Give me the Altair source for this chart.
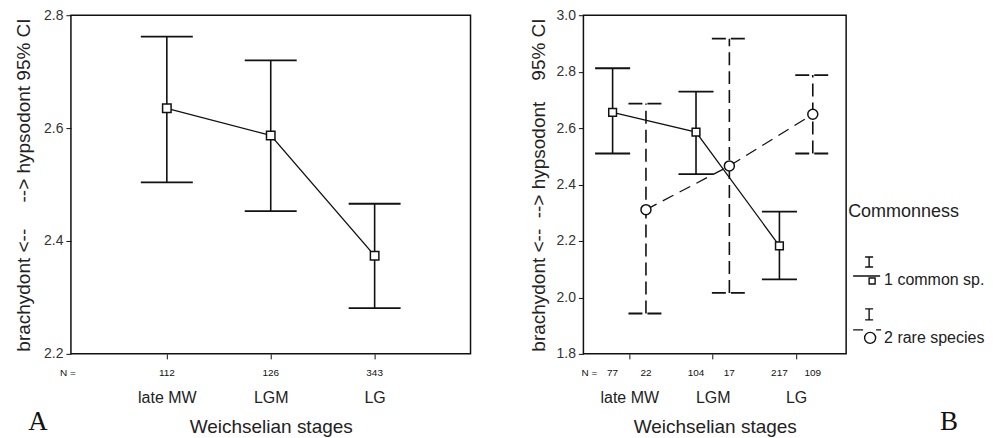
import json
import altair as alt
import pandas as pd

# ---------------- data ----------------
stages = ["late MW", "LGM", "LG"]

# Panel A: all species
a_mean = [2.635, 2.587, 2.374]
a_lo = [2.504, 2.453, 2.281]
a_hi = [2.762, 2.720, 2.466]
a_n = ["112", "126", "343"]

# Panel B: by commonness
groups = ["1 common sp.", "2 rare species"]
b_common_mean = [2.656, 2.586, 2.183]
b_common_lo = [2.510, 2.437, 2.064]
b_common_hi = [2.812, 2.729, 2.304]
b_common_n = ["77", "104", "217"]
b_rare_mean = [2.311, 2.466, 2.649]
b_rare_lo = [1.943, 2.016, 2.510]
b_rare_hi = [2.687, 2.917, 2.788]
b_rare_n = ["22", "17", "109"]

a_ticks = [2.2, 2.4, 2.6, 2.8]
b_ticks = [1.8, 2.0, 2.2, 2.4, 2.6, 2.8, 3.0]

# ---------------- tables ----------------
left_df = pd.DataFrame({"stage": stages, "mean": a_mean, "lo": a_lo, "hi": a_hi, "n": a_n})
right_df = pd.DataFrame({
    "stage": stages * 2,
    "group": [groups[0]] * 3 + [groups[1]] * 3,
    "mean": b_common_mean + b_rare_mean,
    "lo": b_common_lo + b_rare_lo,
    "hi": b_common_hi + b_rare_hi,
    "n": b_common_n + b_rare_n,
})

FONT = "Liberation Sans"
INK = "#111111"
H = 339
WA = 400
WB = 263

stage_list = json.dumps(stages)
label_expr = "['', 'late MW', 'LGM', 'LG'][datum.value]"
NB = "\u00a0"

def x_axis():
    return alt.Axis(values=[1, 2, 3], labelExpr=label_expr, grid=False, domain=False,
                    tickSize=5, tickColor=INK, labelPadding=31, titlePadding=12,
                    labelFontSize=16, labelColor="#222", titleFontSize=19,
                    titleFontWeight="normal", titleColor="#222", labelFont=FONT, titleFont=FONT)

def y_axis(vals, tpad):
    return alt.Axis(values=vals, format=".1f", grid=False, domain=False, tickSize=5,
                    tickColor=INK, labelPadding=3, titlePadding=tpad, labelFontSize=14,
                    labelColor="#333", titleFontSize=19, titleFontWeight="normal",
                    titleColor="#222", labelFont=FONT, titleFont=FONT)

# ---------------- Panel A ----------------
xa_scale = alt.Scale(domain=[0.077, 3.923], nice=False, zero=False)
ya_scale = alt.Scale(domain=[2.2, 2.8], nice=False, zero=False)
xa_axis = x_axis()
ya_axis = y_axis(a_ticks, 10)
ya_title = "brachydont <--" + NB * 4 + " --> hypsodont 95% CI"
x_title = "Weichselian stages"

baseA = alt.Chart(left_df).transform_calculate(
    pos=f"indexof({stage_list}, datum.stage) + 1"
).transform_calculate(l="datum.pos - 0.25", r="datum.pos + 0.25")

def XA(field):
    return alt.X(field, scale=xa_scale, axis=xa_axis, title=x_title)

def YA(field):
    return alt.Y(field, scale=ya_scale, axis=ya_axis, title=ya_title)

a_bars = baseA.mark_rule(color=INK, strokeWidth=1.6).encode(x=XA("pos:Q"), y=YA("lo:Q"), y2="hi:Q")
a_cap_lo = baseA.mark_rule(color=INK, strokeWidth=1.8).encode(x=XA("l:Q"), x2="r:Q", y=YA("lo:Q"))
a_cap_hi = baseA.mark_rule(color=INK, strokeWidth=1.8).encode(x=XA("l:Q"), x2="r:Q", y=YA("hi:Q"))
a_line = baseA.mark_line(color=INK, strokeWidth=1.3).encode(x=XA("pos:Q"), y=YA("mean:Q"))
a_pts = baseA.mark_point(shape="square", size=72, filled=True, fill="white", stroke=INK,
                         strokeWidth=1.5, opacity=1).encode(x=XA("pos:Q"), y=YA("mean:Q"))
a_n_txt = baseA.mark_text(font=FONT, fontSize=10, color=INK).encode(
    x=XA("pos:Q"), y=alt.value(H + 19), text="n:N")
a_n_lab = alt.Chart(pd.DataFrame({"t": ["N ="]})).mark_text(font=FONT, fontSize=10, color=INK).encode(
    x=alt.value(-3), y=alt.value(H + 19), text="t:N")
a_letter = alt.Chart(pd.DataFrame({"t": ["A"]})).mark_text(
    font="Liberation Serif", fontSize=27, color=INK).encode(
    x=alt.value(-33), y=alt.value(H + 68), text="t:N")

panelA = alt.layer(a_bars, a_cap_lo, a_cap_hi, a_line, a_pts, a_n_txt, a_n_lab, a_letter).properties(
    width=WA, height=H)

# ---------------- Panel B ----------------
xb_scale = alt.Scale(domain=[0.45, 3.6], nice=False, zero=False)
yb_scale = alt.Scale(domain=[1.8, 3.0], nice=False, zero=False)
xb_axis = x_axis()
yb_axis = y_axis(b_ticks, 7)
yb_title = "brachydont <--" + NB + " --> hypsodont" + NB * 3 + " 95% CI"

baseB = alt.Chart(right_df).transform_calculate(
    pos=f"indexof({stage_list}, datum.stage) + 1 + (datum.group == '{groups[1]}' ? 0.2 : -0.2)"
).transform_calculate(l="datum.pos - 0.21", r="datum.pos + 0.21")

def XB(field):
    return alt.X(field, scale=xb_scale, axis=xb_axis, title=x_title)

def YB(field):
    return alt.Y(field, scale=yb_scale, axis=yb_axis, title=yb_title)

common = baseB.transform_filter(f"datum.group == '{groups[0]}'")
rare = baseB.transform_filter(f"datum.group == '{groups[1]}'")

c_bars = common.mark_rule(color=INK, strokeWidth=1.6).encode(x=XB("pos:Q"), y=YB("lo:Q"), y2="hi:Q")
c_cap_lo = common.mark_rule(color=INK, strokeWidth=1.8).encode(x=XB("l:Q"), x2="r:Q", y=YB("lo:Q"))
c_cap_hi = common.mark_rule(color=INK, strokeWidth=1.8).encode(x=XB("l:Q"), x2="r:Q", y=YB("hi:Q"))
c_line = common.mark_line(color=INK, strokeWidth=1.3).encode(x=XB("pos:Q"), y=YB("mean:Q"))
c_pts = common.mark_point(shape="square", size=60, filled=True, fill="white", stroke=INK,
                          strokeWidth=1.5, opacity=1).encode(x=XB("pos:Q"), y=YB("mean:Q"))

r_bars = rare.mark_rule(color=INK, strokeWidth=1.6, strokeDash=[13, 6]).encode(
    x=XB("pos:Q"), y=YB("lo:Q"), y2="hi:Q")
r_cap_lo = rare.mark_rule(color=INK, strokeWidth=1.8, strokeDash=[14, 5]).encode(
    x=XB("l:Q"), x2="r:Q", y=YB("lo:Q"))
r_cap_hi = rare.mark_rule(color=INK, strokeWidth=1.8, strokeDash=[14, 5]).encode(
    x=XB("l:Q"), x2="r:Q", y=YB("hi:Q"))
r_line = rare.mark_line(color=INK, strokeWidth=1.3, strokeDash=[12, 7]).encode(
    x=XB("pos:Q"), y=YB("mean:Q"))
r_pts = rare.mark_point(shape="circle", size=100, filled=True, fill="white", stroke=INK,
                        strokeWidth=1.5, opacity=1).encode(x=XB("pos:Q"), y=YB("mean:Q"))

b_n_txt = baseB.mark_text(font=FONT, fontSize=10, color=INK).encode(
    x=XB("pos:Q"), y=alt.value(H + 19), text="n:N")
b_n_lab = alt.Chart(pd.DataFrame({"t": ["N ="]})).mark_text(font=FONT, fontSize=10, color=INK).encode(
    x=alt.value(6), y=alt.value(H + 19), text="t:N")
b_letter = alt.Chart(pd.DataFrame({"t": ["B"]})).mark_text(
    font="Liberation Serif", fontSize=27, color=INK).encode(
    x=alt.value(366), y=alt.value(H + 68), text="t:N")

# legend glyphs: error-bar "I" above, line and marker below
path_common = ("M0.067,-1.533 H0.6 M0.333,-1.533 V-0.867 M0.067,-0.867 H0.6 "
               "M-0.733,-0.267 H1.067 "
               "M0.333,-0.133 H0.733 V0.267 H0.333 Z")
path_rare = ("M0.067,-1.933 H0.6 M0.333,-1.933 V-1.2 M0.067,-1.2 H0.6 "
             "M-0.733,-0.533 H-0.067 M0.8,-0.533 H1.133 "
             "M0.033,0 A0.367,0.367 0 1,0 0.767,0 A0.367,0.367 0 1,0 0.033,0 Z")

legend_layer = baseB.mark_point(opacity=0).encode(
    x=XB("pos:Q"), y=YB("mean:Q"),
    shape=alt.Shape("group:N", scale=alt.Scale(domain=groups, range=[path_common, path_rare]),
                    legend=alt.Legend(title="Commonness", orient="none", legendX=778, legendY=188,
                                      symbolSize=900, symbolStrokeColor=INK,
                                      symbolFillColor="transparent", symbolStrokeWidth=1.4,
                                      symbolOpacity=1, labelFont=FONT, labelFontSize=16,
                                      labelColor="#222", titleFont=FONT, titleFontSize=18,
                                      titleFontWeight="normal", titleColor="#222",
                                      titlePadding=43, rowPadding=18, labelOffset=4,
                                      padding=0)))

panelB = alt.layer(c_bars, c_cap_lo, c_cap_hi, c_line, c_pts,
                   r_bars, r_cap_lo, r_cap_hi, r_line, r_pts,
                   b_n_txt, b_n_lab, b_letter, legend_layer).properties(width=WB, height=H)

chart = alt.hconcat(panelA, panelB, spacing=57).properties(
    padding={"left": 5, "top": -1, "right": 0, "bottom": 0}
).configure(font=FONT).configure_view(stroke=INK, strokeWidth=1.5)

chart.save("out.html", embed_options={"renderer": "svg", "actions": False})
